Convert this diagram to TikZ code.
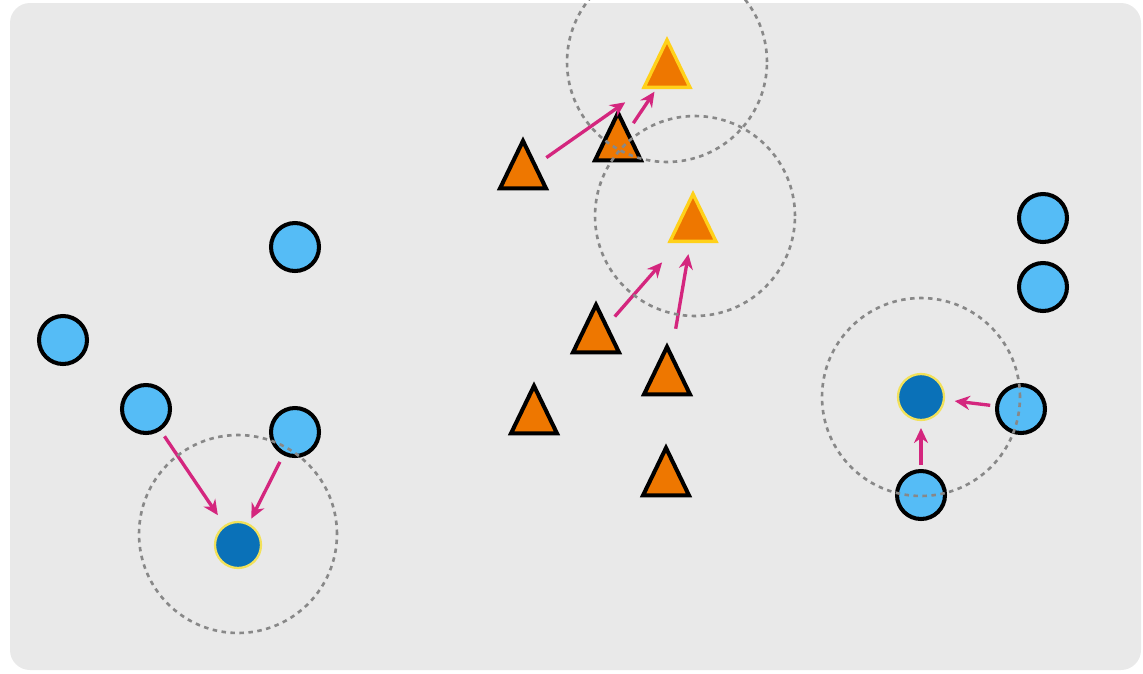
\documentclass[tikz,border=0pt]{standalone}
\usepackage{tikz}
\usepackage{xcolor}
\usetikzlibrary{positioning,arrows.meta,shapes.geometric,calc}
\definecolor{panel}{HTML}{E9E9E9}
\definecolor{sky}{HTML}{55BCF6}
\definecolor{deep}{HTML}{0A71B8}
\definecolor{amber}{HTML}{EE7700}
\definecolor{gold}{HTML}{FFD11A}
\definecolor{pale}{HTML}{F2E15A}
\definecolor{pull}{HTML}{D4267E}
\definecolor{ring}{HTML}{888888}

\begin{document}
\begin{tikzpicture}[x=0.02cm,y=-0.02cm,
    dot/.style={circle,draw=black,fill=sky,line width=2.3pt,minimum size=0.96cm,inner sep=0pt},
    hub/.style={circle,draw=pale,fill=deep,line width=1.3pt,minimum size=0.92cm,inner sep=0pt},
    tri/.style={isosceles triangle,isosceles triangle stretches,shape border rotate=90,
      draw=black,fill=amber,line width=2.3pt,minimum width=0.92cm,minimum height=0.95cm,inner sep=0pt},
    goal/.style={tri,draw=gold,line width=1.9pt},
    pullarrow/.style={draw=pull,line width=1.9pt,-{Stealth[length=0.3cm,width=0.28cm]}},
    zone/.style={draw=ring,line width=1.5pt,dash pattern=on 0.09cm off 0.09cm}]
    \useasboundingbox (0,0) rectangle (1143,673);
    % Panel
    \fill[panel,rounded corners=0.4cm] (10,3) rectangle (1141,670);
    % Left cluster
    \node[dot] (c1) at (295,247) {};
    \node[dot] (c2) at (63,340) {};
    \node[dot] (c3) at (146,409) {};
    \node[dot] (c4) at (295,432) {};
    \node[hub] (d1) at (238,545) {};
    % Right cluster
    \node[dot] (c5) at (1043,218) {};
    \node[dot] (c6) at (1043,287) {};
    \node[dot] (c7) at (1021,409) {};
    \node[dot] (c8) at (921,495) {};
    \node[hub] (d2) at (921,397) {};
    % Triangles
    \node[tri] (ta) at (523,174) {};
    \node[tri] (tb) at (618,146) {};
    \node[tri] (tc) at (596,338) {};
    \node[tri] (td) at (667,380) {};
    \node[tri] (te) at (534,419) {};
    \node[tri] (tf) at (666,481) {};
    \node[goal] (g1) at (667,73) {};
    \node[goal] (g2) at (693,227) {};
    % Pulls
    \draw[pullarrow,shorten <=0.57cm,shorten >=1.02cm] (ta.center) -- (g1.center);
    \draw[pullarrow,shorten <=0.55cm,shorten >=0.45cm] (tb.center) -- (g1.center);
    \draw[pullarrow,shorten <=0.57cm,shorten >=0.94cm] (tc.center) -- (g2.center);
    \draw[pullarrow,shorten <=1.04cm,shorten >=0.55cm] (td.center) -- (g2.center);
    \draw[pullarrow,shorten <=0.66cm,shorten >=0.72cm] (c3.center) -- (d1.center);
    \draw[pullarrow,shorten <=0.67cm,shorten >=0.59cm] (c4.center) -- (d1.center);
    \draw[pullarrow,shorten <=0.62cm,shorten >=0.68cm] (c7.center) -- (d2.center);
    \draw[pullarrow,shorten <=0.6cm,shorten >=0.62cm] (c8.center) -- (d2.center);
    % Radii
    \draw[zone] ([yshift=0.22cm]d1.center) circle (1.98cm);
    \draw[zone] (d2.center) circle (1.98cm);
    \draw[zone] ([yshift=0.22cm]g1.center) circle (2cm);
    \draw[zone] ([xshift=0.04cm,yshift=0.22cm]g2.center) circle (2cm);
\end{tikzpicture}
\end{document}
